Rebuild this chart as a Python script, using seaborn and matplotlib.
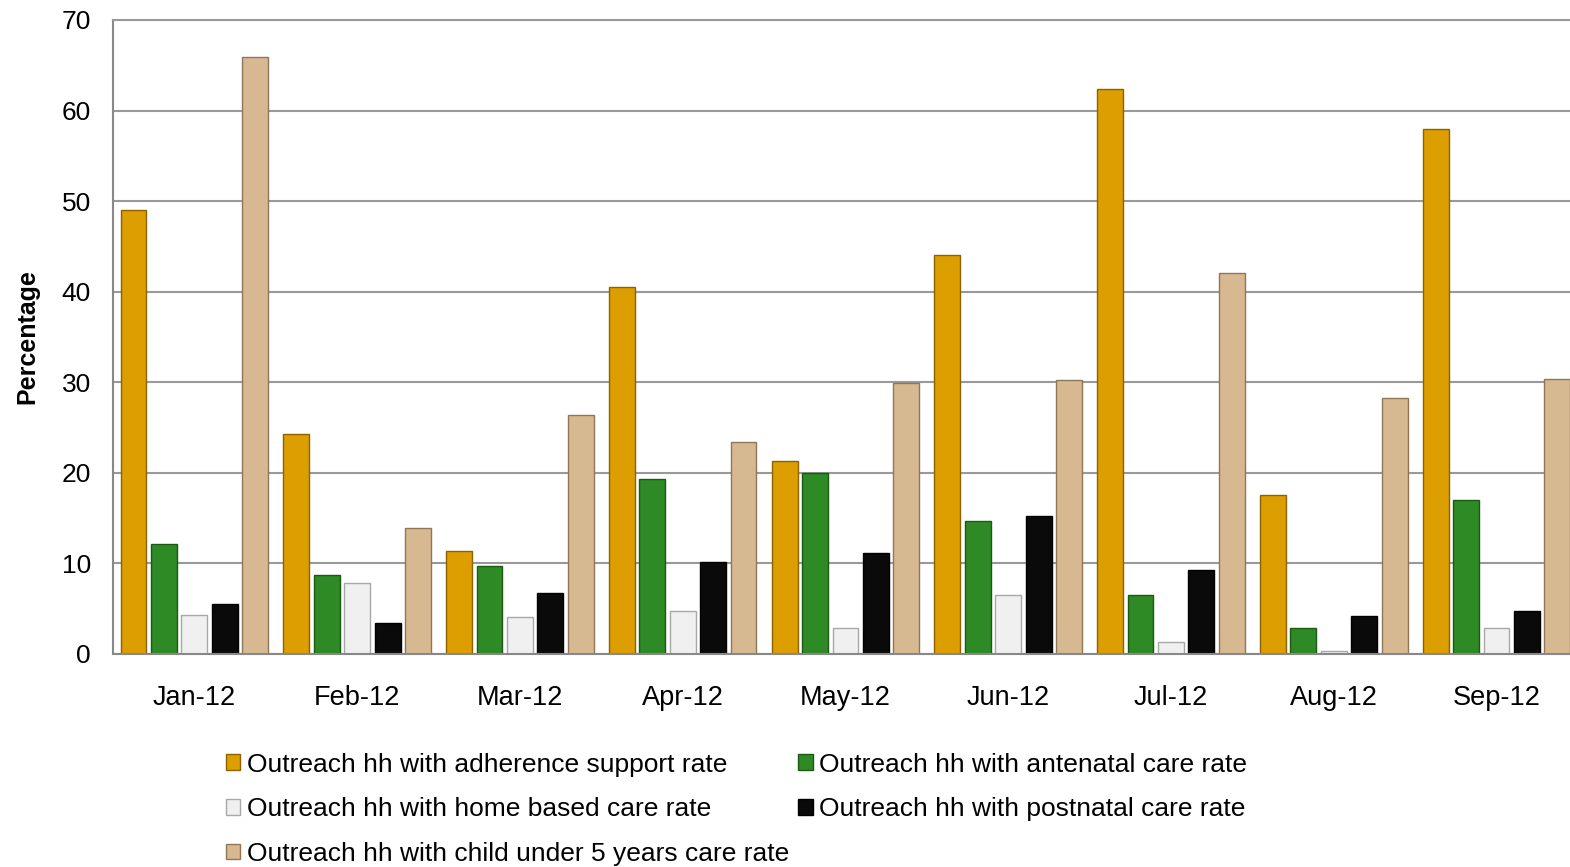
import seaborn as sns
import pandas as pd
import matplotlib.pyplot as plt
from matplotlib.patches import Patch

months = ['Jan-12', 'Feb-12', 'Mar-12', 'Apr-12', 'May-12', 'Jun-12', 'Jul-12', 'Aug-12', 'Sep-12']

series_names = [
    'Outreach hh with adherence support rate',
    'Outreach hh with antenatal care rate',
    'Outreach hh with home based care rate',
    'Outreach hh with postnatal care rate',
    'Outreach hh with child under 5 years care rate',
]

adherence = [49.0, 24.3, 11.4, 40.5, 21.3, 44.1, 62.4, 17.6, 58.0]
antenatal = [12.1, 8.7, 9.7, 19.3, 20.0, 14.7, 6.5, 2.9, 17.0]
home_based = [4.3, 7.8, 4.1, 4.7, 2.9, 6.5, 1.3, 0.3, 2.9]
postnatal = [5.5, 3.4, 6.7, 10.2, 11.1, 15.2, 9.3, 4.2, 4.7]
child_u5 = [65.9, 13.9, 26.4, 23.4, 29.9, 30.2, 42.1, 28.3, 30.4]

colors = ['#DC9E00', '#2E8A24', '#F0F0F0', '#0A0A0A', '#D6B991']
edges = ['#8A6200', '#1C5A14', '#A8A8A8', '#000000', '#8F7656']

rows = []
for name, vals in zip(series_names, [adherence, antenatal, home_based, postnatal, child_u5]):
    for m, v in zip(months, vals):
        rows.append({'Month': m, 'Series': name, 'Value': v})
df = pd.DataFrame(rows)

sns.set_style('white')
plt.rcParams['font.family'] = ['Liberation Sans', 'DejaVu Sans']
plt.rcParams['text.color'] = 'black'
plt.rcParams['xtick.color'] = 'black'
plt.rcParams['ytick.color'] = 'black'
plt.rcParams['axes.labelcolor'] = 'black'

fig = plt.figure(figsize=(15.7, 8.67), dpi=100)
ax = fig.add_axes([0.072, 0.2457, 0.933, 0.7313])

sns.barplot(data=df, x='Month', y='Value', hue='Series', hue_order=series_names,
            palette=colors, saturation=1, width=0.935, gap=0.15, ax=ax,
            legend=False, linewidth=1, errorbar=None)

# edge colours per series
for container, ec in zip(ax.containers, edges):
    for bar in container:
        bar.set_edgecolor(ec)

ax.set_ylim(0, 70)
ax.set_yticks(range(0, 71, 10))
ax.set_xlim(-0.5, len(months) - 0.5)
ax.yaxis.grid(True, color='#999999', linewidth=1.5)
ax.set_axisbelow(True)
ax.spines['right'].set_visible(False)
ax.spines['top'].set_color('#999999')
ax.spines['top'].set_linewidth(1.5)
for s in ['left', 'bottom']:
    ax.spines[s].set_color('#888888')
    ax.spines[s].set_linewidth(1.5)
ax.tick_params(axis='y', labelsize=19, length=0, pad=16)
ax.tick_params(axis='x', labelsize=19.5, length=0, pad=22)
ax.set_xlabel('')
ax.set_ylabel('Percentage', fontsize=18, fontweight='bold', labelpad=16)

handles = [Patch(facecolor=c, edgecolor=e) for c, e in zip(colors, edges)]
order = [0, 2, 4, 1, 3]
fig.legend([handles[i] for i in order], [series_names[i] for i in order],
           ncol=2, loc='upper left', bbox_to_anchor=(0.137, 0.144),
           frameon=False, fontsize=19, handlelength=0.55, handleheight=0.55,
           handletextpad=0.25, columnspacing=0.35, labelspacing=0.78,
           borderaxespad=0)

fig.savefig('out.png', dpi=100)
